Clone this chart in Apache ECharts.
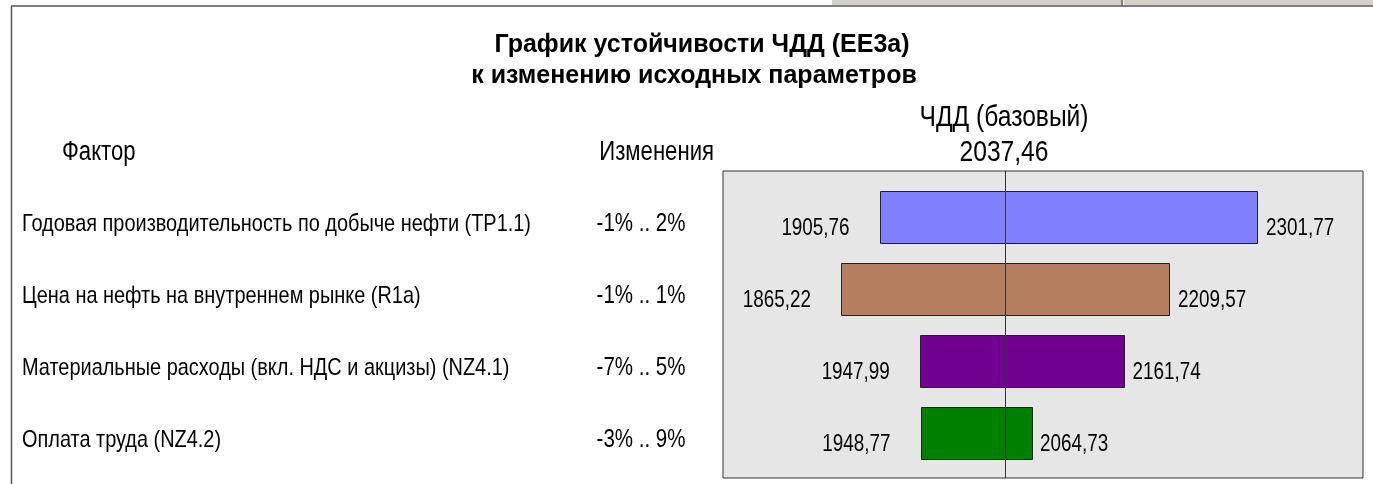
<!DOCTYPE html>
<html>
<head>
<meta charset="utf-8">
<script src="https://cdn.jsdelivr.net/npm/echarts@6/dist/echarts.min.js"></script>
<style>
  html, body { margin: 0; padding: 0; background: #ffffff; }
  #chart { width: 1373px; height: 484px; }
</style>
</head>
<body>
<div id="chart"></div>
<script>
// Sensitivity of NPV (ЧДД) to the input parameters
const factors = [
  'Годовая производительность по добыче нефти (TP1.1)',
  'Цена на нефть на внутреннем рынке (R1a)',
  'Материальные расходы (вкл. НДС и акцизы) (NZ4.1)',
  'Оплата труда (NZ4.2)'
];
const changes = ['-1% .. 2%', '-1% .. 1%', '-7% .. 5%', '-3% .. 9%'];
const lowVals = [1905.76, 1865.22, 1947.99, 1948.77];
const highVals = [2301.77, 2209.57, 2161.74, 2064.73];
const baseNPV = 2037.46;

const barColors = ['#8080ff', '#b57f5f', '#700090', '#008000'];
const FONT = '"Liberation Sans", Arial, sans-serif';
const NARROW = 0.82; // horizontal squeeze giving a narrow face

const fmt = v => v.toFixed(2).replace('.', ',');

const chart = echarts.init(document.getElementById('chart'), null, { renderer: 'canvas' });

const xRange = { min: 1741.5, max: 2413 };

function narrowText(x, y, text, size, align, extra) {
  return Object.assign({
    type: 'text', x: x, y: y, scaleX: NARROW, silent: true,
    style: { text: text, fontSize: size, fontFamily: FONT, fill: '#000',
      align: align, verticalAlign: 'middle' }
  }, extra || {});
}

// one row of the tornado: bar from low to high value, its labels and the factor text
function renderRow(params, api) {
  const i = api.value(0);
  const low = api.value(1);
  const high = api.value(2);
  const pLow = api.coord([low, i]);
  const pHigh = api.coord([high, i]);
  const yc = pLow[1];
  const barH = 52;
  return {
    type: 'group',
    children: [
      { type: 'rect',
        shape: { x: Math.round(pLow[0]) + 0.5, y: Math.round(yc - barH / 2) + 0.5,
                 width: Math.round(pHigh[0] - pLow[0]), height: barH },
        style: { fill: barColors[i], stroke: '#222', lineWidth: 1 } },
      narrowText(pLow[0] - 30, yc + 12, fmt(low), 23, 'right'),
      narrowText(pHigh[0] + 9, yc + 12, fmt(high), 23, 'left'),
      narrowText(22, yc + 7, factors[i], 24, 'left', { scaleX: 0.83 }),
      narrowText(641, yc + 7, changes[i], 25, 'center')
    ]
  };
}

const option = {
  backgroundColor: '#ffffff',
  animation: false,
  textStyle: { fontFamily: FONT },
  grid: [
    // framed plotting box
    { left: 723, right: 10, top: 171, bottom: 6, show: true,
      backgroundColor: '#e6e6e6', borderColor: '#333333', borderWidth: 1 },
    // bar rows
    { left: 723, right: 10, top: 181, bottom: 15 }
  ],
  xAxis: [
    { gridIndex: 0, type: 'value', min: xRange.min, max: xRange.max, show: false },
    { gridIndex: 1, type: 'value', min: xRange.min, max: xRange.max, show: false }
  ],
  yAxis: [
    { gridIndex: 0, type: 'value', min: 0, max: 1, show: false },
    { gridIndex: 1, type: 'category', data: factors, inverse: true, show: false }
  ],
  series: [
    { type: 'custom', xAxisIndex: 1, yAxisIndex: 1, renderItem: renderRow,
      encode: { x: [1, 2], y: 0 }, silent: true, z: 2,
      data: factors.map((f, i) => [i, lowVals[i], highVals[i]]) },
    // base NPV marker line across the whole box
    { type: 'line', xAxisIndex: 0, yAxisIndex: 0, data: [], silent: true, z: 10,
      markLine: { symbol: 'none', silent: true, label: { show: false },
        lineStyle: { color: '#333333', width: 1, type: 'solid' },
        data: [{ xAxis: baseNPV }] } }
  ],
  graphic: [
    // window frame lines and tabs
    { type: 'rect', shape: { x: 832, y: 0, width: 289, height: 5 },
      style: { fill: '#d4d0c8' }, silent: true },
    { type: 'rect', shape: { x: 1124, y: 0, width: 249, height: 5 },
      style: { fill: '#d4d0c8' }, silent: true },
    { type: 'line', shape: { x1: 1122, y1: 0, x2: 1122, y2: 6 },
      style: { stroke: '#555', lineWidth: 1.5 }, silent: true },
    { type: 'line', shape: { x1: 11, y1: 6, x2: 1373, y2: 6 },
      style: { stroke: '#555', lineWidth: 1.5 }, silent: true },
    { type: 'line', shape: { x1: 11.5, y1: 6, x2: 11.5, y2: 484 },
      style: { stroke: '#555', lineWidth: 1.5 }, silent: true },
    // title
    { type: 'text', x: 702, y: 45, silent: true,
      style: { text: 'График устойчивости ЧДД (EE3a)', fontSize: 25, fontWeight: 'bold',
        fontFamily: FONT, fill: '#000', align: 'center', verticalAlign: 'middle' } },
    { type: 'text', x: 694, y: 76, silent: true,
      style: { text: 'к изменению исходных параметров', fontSize: 25, fontWeight: 'bold',
        fontFamily: FONT, fill: '#000', align: 'center', verticalAlign: 'middle' } },
    // column headers
    narrowText(62, 153, 'Фактор', 27, 'left'),
    narrowText(714, 153, 'Изменения', 27, 'right'),
    narrowText(1004, 118, 'ЧДД (базовый)', 30, 'center'),
    narrowText(1004, 153, fmt(baseNPV), 30, 'center')
  ]
};

chart.setOption(option);
</script>
</body>
</html>
